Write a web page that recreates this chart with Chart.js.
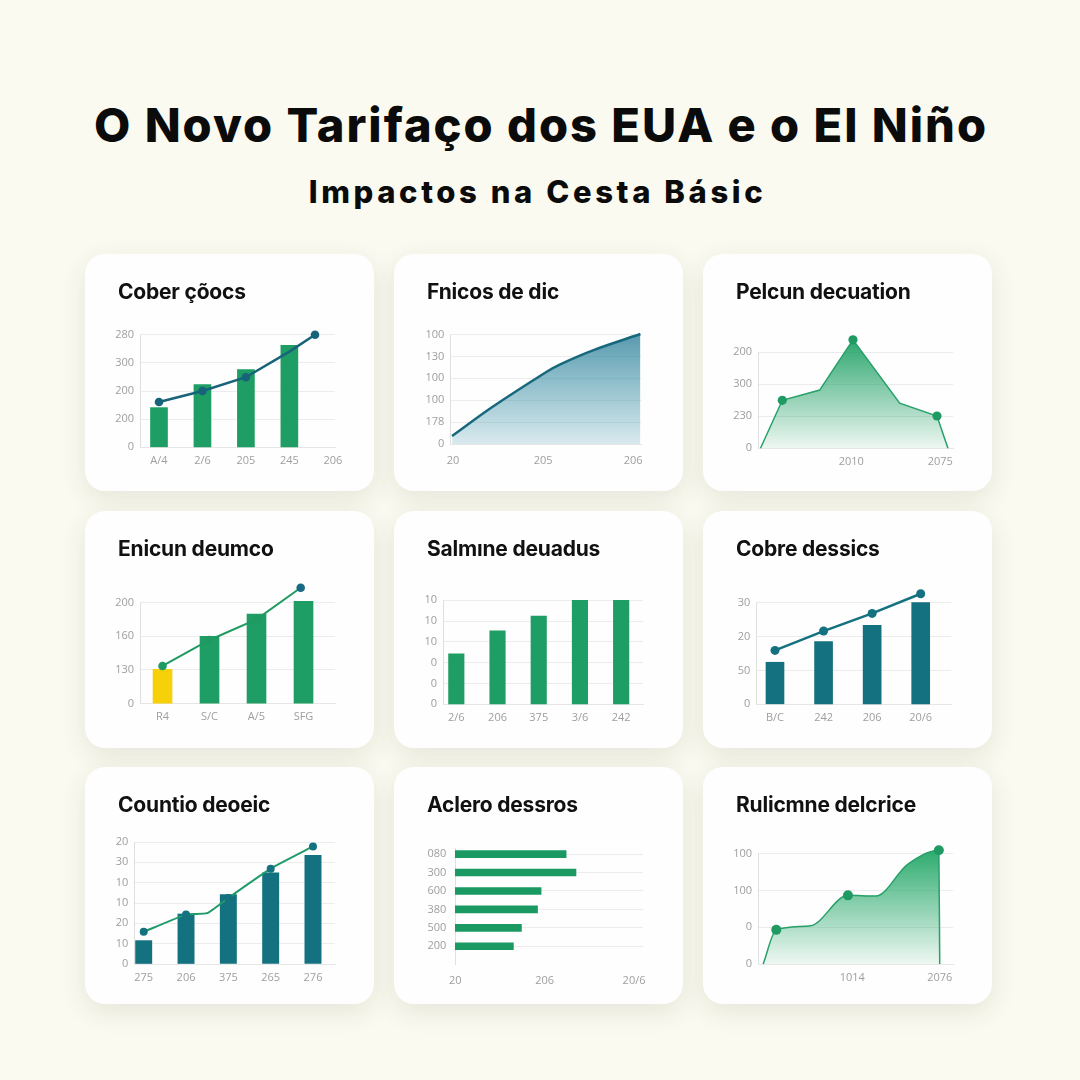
<!DOCTYPE html>
<html><head><meta charset="utf-8">
<script src="https://cdn.jsdelivr.net/npm/chart.js@4.4.1/dist/chart.umd.min.js"></script>
<style>
html,body{margin:0;padding:0;}
body{width:1080px;height:1080px;background:#fbfaf0;position:relative;overflow:hidden;font-family:Inter,"Noto Sans",sans-serif;}
#title{position:absolute;left:0;width:1082px;top:97px;text-align:center;font-weight:800;font-size:47px;line-height:56px;color:#0b0b0b;letter-spacing:2px;}
#subtitle{position:absolute;left:0;width:1075px;top:172px;text-align:center;font-weight:800;font-size:31px;line-height:40px;color:#0b0b0b;letter-spacing:3.6px;}
.card{position:absolute;width:289px;height:237px;background:#fefefe;border-radius:20px;box-shadow:0 8px 26px rgba(50,50,30,0.10);}
.card h2{position:absolute;left:33px;top:26px;margin:0;font-size:21px;font-weight:700;line-height:24px;color:#111;letter-spacing:-0.2px;white-space:nowrap;}
.card canvas{position:absolute;left:0;top:0;}
</style></head>
<body>
<div id="title"></div>
<div id="subtitle"></div>
<div id="cards"></div>
<script>
// ---------------- DATA ----------------
const mainTitle = "O Novo Tarifaço dos EUA e o El Niño";
const subTitle = "Impactos na Cesta Básic";
const cardTitles = ["Cober çõocs","Fnicos de dic","Pelcun decuation","Enicun deumco","Salmıne deuadus","Cobre dessics","Countio deoeic","Aclero dessros","Rulicmne delcrice"];

// Chart 1 – bars + line
const c1XLabels = ["A/4","2/6","205","245","206"];
const c1YLabels = ["0","200","200","300","280"];
const c1BarX = [0,1,2,3];
const c1Bars = [1.41,2.23,2.76,3.62];
const c1LineX = [0,1,2,3,3.59];
const c1Line = [1.61,2.0,2.49,3.4,4.0];

// Chart 2 – area
const c2XLabels = ["20","205","206"];
const c2YLabels = ["0","178","100","100","130","100"];
const c2LineX = [-0.01,0.44,1.04,1.19,1.56,2.08];
const c2Line = [0.37,1.70,3.30,3.64,4.29,5.02];

// Chart 3 – area with peak
const c3XLabels = ["2010","2075"];
const c3YLabels = ["0","230","300","200"];
const c3LineX = [-0.02,0.225,0.645,1.019,1.544,1.963,2.086];
const c3Line = [0,1.5,1.82,3.39,1.41,1.01,0];

// Chart 4 – bars + line
const c4XLabels = ["R4","S/C","A/5","SFG"];
const c4YLabels = ["0","130","160","200"];
const c4BarX = [0,1,2,3];
const c4Bars = [1.02,2.0,2.66,3.04];
const c4LineX = [0,1,2,2.94];
const c4Line = [1.12,1.89,2.5,3.44];

// Chart 5 – bars
const c5XLabels = ["2/6","206","375","3/6","242"];
const c5YLabels = ["0","0","0","10","10","10"];
const c5BarX = [0,1,2,3,4];
const c5Bars = [2.43,3.53,4.24,5.0,5.0];

// Chart 6 – bars + line
const c6XLabels = ["B/C","242","206","20/6"];
const c6YLabels = ["0","50","20","30"];
const c6BarX = [0,1,2,3];
const c6Bars = [1.24,1.85,2.33,3.0];
const c6LineX = [0,1,2,3];
const c6Line = [1.59,2.16,2.68,3.26];

// Chart 7 – bars + line
const c7XLabels = ["275","206","375","265","276"];
const c7YLabels = ["0","10","20","10","10","30","20"];
const c7BarX = [0,1,2,3,4];
const c7Bars = [1.15,2.46,3.41,4.48,5.35];
const c7LineX = [0,1,1.5,2,3,4];
const c7Line = [1.58,2.43,2.5,3.25,4.69,5.78];

// Chart 8 – horizontal bars
const c8XLabels = ["20","206","20/6"];
const c8YLabels = ["080","300","600","380","500","200"];
const c8Rows = [0,1,2,3,4,5];
const c8Bars = [1.24,1.35,0.96,0.92,0.74,0.65];

// Chart 9 – area
const c9XLabels = ["1014","2076"];
const c9YLabels = ["0","0","100","100"];
const c9LineX = [-0.02,0.13,0.52,0.95,1.27,1.63,1.99,2.0];
const c9Line = [0,0.93,1.04,1.87,1.85,2.71,3.1,0];

// ---------------- LAYOUT / HELPERS ----------------
document.getElementById('title').textContent = mainTitle;
document.getElementById('subtitle').textContent = subTitle;

const cardPos = [[85,254],[394,254],[703,254],[85,511],[394,511],[703,511],[85,767],[394,767],[703,767]];
const Y_W = 40, X_H = 22, CW = 289, CH = 237;
const TICK = { color:'#9e9e9e', font:{ family:'"Open Sans", sans-serif', size:11 } };
const GREEN = '#1e9e64', TEAL = '#14717f', DARK = '#17637a';
const AXIS_COLOR = '#e0e0e0';

const pts = (xs, ys) => xs.map((x,i)=>({x, y: ys[i]}));
const hpts = (rows, vals) => rows.map((r,i)=>({y:r, x: vals[i]}));

// draws the left axis line only between the lowest and highest tick
const leftAxisLine = {
  id:'leftAxisLine',
  beforeDatasetsDraw(chart) {
    const y = chart.scales.y, a = chart.chartArea, t = y.ticks;
    if (!t || !t.length) return;
    const ctx = chart.ctx;
    const x = Math.round(a.left) + 0.5;
    ctx.save();
    ctx.strokeStyle = AXIS_COLOR; ctx.lineWidth = 1;
    ctx.beginPath();
    ctx.moveTo(x, y.getPixelForValue(t[t.length-1].value));
    ctx.lineTo(x, y.getPixelForValue(t[0].value));
    ctx.stroke();
    ctx.restore();
  }
};

function yAxis(labels, max, extra) {
  return Object.assign({
    type:'linear', min:0, max: (max===undefined ? labels.length-1 : max), offset:false,
    afterBuildTicks: a => { a.ticks = labels.map((_,i)=>({value:i})); },
    afterFit: s => { s.width = Y_W; },
    ticks: Object.assign({ callback:(v,i)=>labels[i], padding:6, autoSkip:false }, TICK),
    grid: { color:'#ececec', lineWidth:1, drawTicks:false, offset:false },
    border: { display:false }
  }, extra || {});
}
function xAxis(labels, start, min, max, pad) {
  return {
    type:'linear', min, max, offset:false,
    afterBuildTicks: a => { a.ticks = labels.map((_,i)=>({value:start+i})); },
    afterFit: s => { s.height = X_H; },
    ticks: Object.assign({ callback:(v,i)=>labels[i], padding:(pad||7), autoSkip:false, maxRotation:0 }, TICK),
    grid: { display:false, drawTicks:false, offset:false },
    border: { display:true, color:'#e6e6e6' }
  };
}
function opts(rect, x, y, extra) {
  const [L,T,R,B] = rect;
  return Object.assign({
    responsive:false, animation:false, devicePixelRatio:1,
    layout:{ autoPadding:false, padding:{ left:L-Y_W, top:T, right:CW-R, bottom:CH-B-X_H } },
    plugins:{ legend:{display:false}, tooltip:{enabled:false} },
    scales:{ x, y }
  }, extra || {});
}
function vGrad(c0, c1) {
  return (ctx) => {
    const ch = ctx.chart, a = ch.chartArea;
    if (!a) return c0;
    const g = ch.ctx.createLinearGradient(0, a.top, 0, a.bottom);
    g.addColorStop(0, c0); g.addColorStop(1, c1);
    return g;
  };
}

const configs = [
  // 1
  { type:'bar', data:{ datasets:[
      { type:'line', data:pts(c1LineX,c1Line), borderColor:DARK, borderWidth:2.5, pointRadius:[4.3,4.3,4.3,0,4.3], pointBackgroundColor:DARK, pointBorderWidth:0, tension:0, order:0, clip:false },
      { type:'bar', data:pts(c1BarX,c1Bars), backgroundColor:GREEN, barThickness:17, order:1, clip:false } ]},
    options: opts([55,79.3,250,193.3], xAxis(c1XLabels,0,-0.437,4.05), yAxis(c1YLabels,4.05)) },
  // 2
  { type:'line', data:{ datasets:[
      { data:pts(c2LineX,c2Line), borderColor:'#17687d', borderWidth:2.5, pointRadius:0, tension:0.3, fill:'origin',
        backgroundColor:vGrad('rgba(45,128,152,0.80)','rgba(45,140,165,0.18)'), clip:false } ]},
    options: opts([56.3,79.4,247.3,190], xAxis(c2XLabels,0,-0.03,2.09,10), yAxis(c2YLabels,5.05)) },
  // 3
  { type:'line', data:{ datasets:[
      { data:pts(c3LineX,c3Line), borderColor:'#27a069', borderWidth:1.5, pointRadius:[0,4.6,0,4.6,0,4.6,0], pointBackgroundColor:'#1f9a63', pointBorderWidth:0,
        tension:0, fill:'origin', backgroundColor:vGrad('rgba(30,160,100,0.95)','rgba(30,160,100,0.07)'), clip:false } ]},
    options: opts([55,83.9,250,194.3], xAxis(c3XLabels,1,-0.048,2.143), yAxis(c3YLabels,3.45)) },
  // 4
  { type:'bar', data:{ datasets:[
      { type:'line', data:pts(c4LineX,c4Line), borderColor:'#1e9a62', borderWidth:2, pointRadius:4.3, pointBackgroundColor:['#1e9a62','#1e9a62','#1e9a62','#176a82'], pointBorderWidth:0, tension:0, order:0, clip:false },
      { type:'bar', data:pts(c4BarX,c4Bars), backgroundColor:['#f6d10a',GREEN,GREEN,GREEN], barThickness:19, order:1, clip:false } ]},
    options: opts([55,76.4,250,192.7], xAxis(c4XLabels,0,-0.479,3.67), yAxis(c4YLabels,3.45)) },
  // 5
  { type:'bar', data:{ datasets:[
      { data:pts(c5BarX,c5Bars), backgroundColor:GREEN, barThickness:15.5, clip:false } ]},
    options: opts([49,89.3,249,193.3], xAxis(c5XLabels,0,-0.323,4.53), yAxis(c5YLabels)) },
  // 6
  { type:'bar', data:{ datasets:[
      { type:'line', data:pts(c6LineX,c6Line), borderColor:TEAL, borderWidth:2.5, pointRadius:4.5, pointBackgroundColor:TEAL, pointBorderWidth:0, tension:0, order:0, clip:false },
      { type:'bar', data:pts(c6BarX,c6Bars), backgroundColor:TEAL, barThickness:18, order:1, clip:false } ]},
    options: opts([53.3,81.4,248.3,193.3], xAxis(c6XLabels,0,-0.385,3.63), yAxis(c6YLabels,3.3)) },
  // 7
  { type:'bar', data:{ datasets:[
      { type:'line', data:pts(c7LineX,c7Line), borderColor:'#1f9a68', borderWidth:2, pointRadius:[4,4,0,4,4,4], pointBackgroundColor:TEAL, pointBorderWidth:0, tension:0.15, order:0, clip:false },
      { type:'bar', data:pts(c7BarX,c7Bars), backgroundColor:TEAL, barThickness:16.3, order:1, clip:false } ]},
    options: opts([49.3,75,250,197], xAxis(c7XLabels,0,-0.222,4.52), yAxis(c7YLabels)) },
  // 8
  { type:'bar', data:{ datasets:[
      { data:hpts(c8Rows,c8Bars), backgroundColor:'#1a9a62', barThickness:7, clip:false } ]},
    options: opts([61.3,81,249,197.7],
      Object.assign(xAxis(c8XLabels,0,0,2.10,10), { border:{display:false} }),
      yAxis(c8YLabels, 6.0, { min:-0.33, reverse:true, border:{display:true, color:AXIS_COLOR},
        ticks:Object.assign({ callback:(v,i)=>c8YLabels[i], padding:9, autoSkip:false }, TICK) }),
      { indexAxis:'y' }) },
  // 9
  { type:'line', data:{ datasets:[
      { data:pts(c9LineX,c9Line), borderColor:'#27a069', borderWidth:1.5, pointRadius:[0,5,0,5,0,0,5,0], pointBackgroundColor:'#1f9a63', pointBorderWidth:0,
        cubicInterpolationMode:'monotone', fill:'origin', backgroundColor:vGrad('rgba(30,165,100,0.95)','rgba(30,165,100,0.07)'), clip:false } ]},
    options: opts([55,81.4,250,197], xAxis(c9XLabels,1,-0.079,2.152), yAxis(c9YLabels,3.15)) }
];

const host = document.getElementById('cards');
configs.forEach((cfg, i) => {
  const card = document.createElement('div');
  card.className = 'card';
  card.style.left = cardPos[i][0] + 'px';
  card.style.top = cardPos[i][1] + 'px';
  const cv = document.createElement('canvas');
  cv.width = CW; cv.height = CH;
  cv.style.width = CW + 'px'; cv.style.height = CH + 'px';
  card.appendChild(cv);
  const h = document.createElement('h2');
  h.textContent = cardTitles[i];
  card.appendChild(h);
  host.appendChild(card);
  if (i !== 7) cfg.plugins = [leftAxisLine];
  new Chart(cv.getContext('2d'), cfg);
});
</script>
</body></html>
